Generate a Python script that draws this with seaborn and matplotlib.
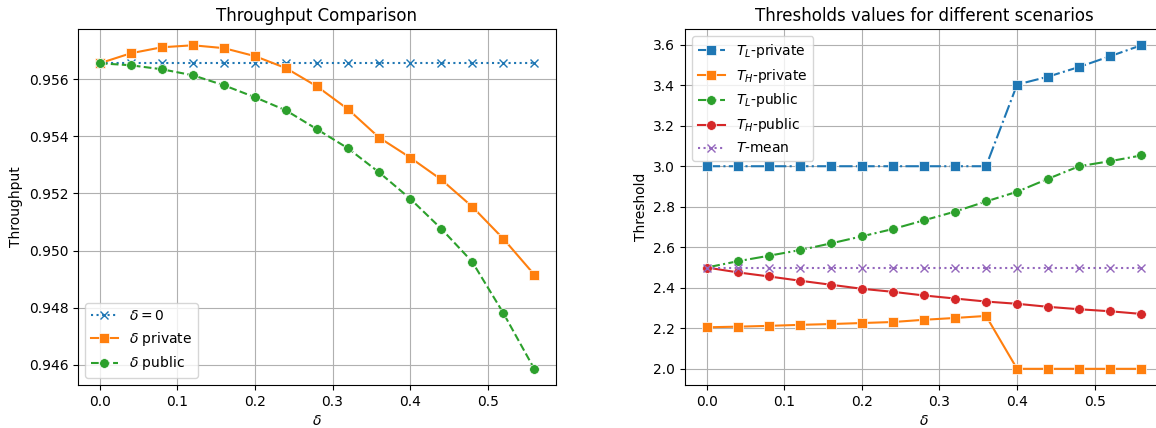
import numpy as np
import pandas as pd
import seaborn as sns
import matplotlib.pyplot as plt

delta = [0.00, 0.04, 0.08, 0.12, 0.16, 0.20, 0.24, 0.28,
         0.32, 0.36, 0.40, 0.44, 0.48, 0.52, 0.56]

# throughput
tp_zero = [0.95656] * 15
tp_private = [0.95656, 0.95691, 0.95712, 0.95719, 0.95709, 0.95681, 0.95639, 0.95575,
              0.95495, 0.95396, 0.95326, 0.95249, 0.95154, 0.95042, 0.94916]
tp_public = [0.95656, 0.95649, 0.95635, 0.95614, 0.95579, 0.95537, 0.95491, 0.95425,
             0.95358, 0.95274, 0.95182, 0.95077, 0.94961, 0.94782, 0.94586]

# thresholds
tl_private = [3.0, 3.0, 3.0, 3.0, 3.0, 3.0, 3.0, 3.0, 3.0, 3.0,
              3.403, 3.442, 3.490, 3.543, 3.597]
th_private = [2.205, 2.208, 2.212, 2.217, 2.221, 2.226, 2.231, 2.242, 2.251, 2.261,
              2.0, 2.0, 2.0, 2.0, 2.0]
tl_public = [2.5, 2.531, 2.558, 2.586, 2.619, 2.654, 2.690, 2.733, 2.776, 2.826,
             2.874, 2.938, 3.0, 3.025, 3.053]
th_public = [2.5, 2.476, 2.456, 2.435, 2.415, 2.395, 2.380, 2.362, 2.347, 2.332,
             2.321, 2.306, 2.294, 2.284, 2.271]
t_mean = [2.5] * 15


def draw_line(ax, y, marker, ls, color, label):
    # x markers have no fill, so keep their edge coloured
    if marker == 'x':
        style = dict(markersize=6, markeredgewidth=1.0, markeredgecolor=color)
    else:
        style = dict(markersize=7, markeredgewidth=0.5, markeredgecolor='w')
    sns.lineplot(x=delta, y=y, ax=ax, marker=marker, linestyle=ls, color=color,
                 label=label, **style)


def show_throughput(ax):
    draw_line(ax, tp_zero, 'x', ':', 'C0', r'$\delta = 0$')
    draw_line(ax, tp_private, 's', '-', 'C1', r'$\delta$ private')
    draw_line(ax, tp_public, 'o', '--', 'C2', r'$\delta$ public')
    ax.set_title('Throughput Comparison')
    ax.set_xlabel(r'$\delta$')
    ax.set_ylabel('Throughput')
    ax.grid(True)
    ax.legend(loc='lower left')


def show_thresholds(ax):
    draw_line(ax, tl_private, 's', '-.', 'C0', r'$T_L$-private')
    draw_line(ax, th_private, 's', '-', 'C1', r'$T_H$-private')
    draw_line(ax, tl_public, 'o', '-.', 'C2', r'$T_L$-public')
    draw_line(ax, th_public, 'o', '-', 'C3', r'$T_H$-public')
    draw_line(ax, t_mean, 'x', ':', 'C4', r'$T$-mean')
    ax.set_title('Thresholds values for different scenarios')
    ax.set_xlabel(r'$\delta$')
    ax.set_ylabel('Threshold')
    ax.grid(True)
    ax.legend(loc='upper left')


fig, axes = plt.subplots(1, 2, figsize=(11.56, 4.28), dpi=100)
show_throughput(axes[0])
show_thresholds(axes[1])
# right panel runs slightly past the canvas, as in the reference crop
fig.subplots_adjust(left=0.0675, right=1.006, top=0.932, bottom=0.1005, wspace=0.27)
plt.savefig('out.png')
